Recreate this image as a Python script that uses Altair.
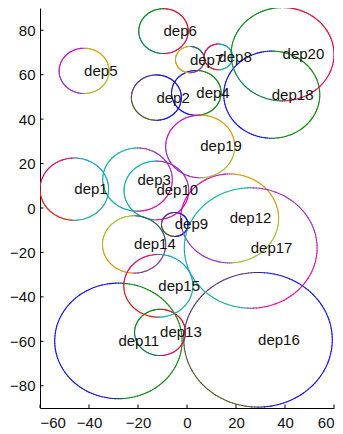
import math
import altair as alt
import pandas as pd

deps = [f"dep{i}" for i in range(1, 21)]
cx = [-46, -12.5, -20.2, 3.8, -42, -9.6, 1.2, 12.8, -5, -12.5,
      -28, 17.4, -11, -21.6, -11.7, 29, 26, 34.6, 5.4, 39]
cy = [8.5, 49.7, 12.8, 51.8, 61.7, 79.6, 66.8, 68, -7.4, 7.9,
      -59.8, -4.7, -56, -16.4, -35, -59.3, -18, 51, 27.7, 69.2]
rad = [14, 10.2, 14.2, 10.1, 10.2, 10.1, 5.9, 5.8, 5.4, 13.2,
       26, 20, 10.4, 12.9, 14.1, 30.3, 27.1, 19.6, 14.1, 21]

# quadrant colours (Q1 top-right, Q2 top-left, Q3 bottom-left, Q4 bottom-right), cycling by 7
patterns = [
    ["#1aa0d8", "#e0105a", "#e02818", "#20b2a0"],
    ["#1414f0", "#5a3a78", "#5a5a30", "#1414f0"],
    ["#a030c0", "#10b8a8", "#20a8a0", "#e010a0"],
    ["#108a10", "#1414f0", "#1414f0", "#108a10"],
    ["#d4a010", "#d010c0", "#9a30d0", "#a0c030"],
    ["#e01030", "#108a20", "#108050", "#e0105a"],
    ["#2f5f6f", "#a0c030", "#d0a020", "#8a40a0"],
]

x_ticks = [-60, -40, -20, 0, 20, 40, 60]
y_ticks = [-80, -60, -40, -20, 0, 20, 40, 60, 80]


def hex2rgb(h):
    return [int(h[i:i + 2], 16) for i in (1, 3, 5)]


def mix(a, b, t):
    ra, rb = hex2rgb(a), hex2rgb(b)
    return "#" + "".join(f"{int(round(ra[k] + (rb[k] - ra[k]) * t)):02x}" for k in range(3))


def seg_color(pat, deg):
    w = 6.0
    q = int(deg // 90) % 4
    base = pat[q]
    b_next = (q + 1) * 90
    b_prev = q * 90
    if deg > b_next - w:
        t = (deg - (b_next - w)) / (2 * w)
        return mix(base, pat[(q + 1) % 4], t)
    if deg < b_prev + w:
        t = (deg - (b_prev - w)) / (2 * w)
        return mix(pat[(q - 1) % 4], base, t)
    return base


rows = []
N = 144
for i, d in enumerate(deps):
    pat = patterns[i % 7]
    for k in range(N):
        a0 = 2 * math.pi * k / N
        a1 = 2 * math.pi * (k + 1) / N
        mid = 360.0 * (k + 0.5) / N
        rows.append({
            "dep": d,
            "x": cx[i] + rad[i] * math.cos(a0),
            "y": cy[i] + rad[i] * math.sin(a0),
            "x2": cx[i] + rad[i] * math.cos(a1),
            "y2": cy[i] + rad[i] * math.sin(a1),
            "col": seg_color(pat, mid),
        })
seg = pd.DataFrame(rows)
lab = pd.DataFrame({"dep": deps, "x": cx, "y": cy})

xs = alt.Scale(domain=[-60, 60], nice=False, zero=False)
ys = alt.Scale(domain=[-90, 90], nice=False, zero=False)

circles = alt.Chart(seg).mark_rule(strokeWidth=1.1, strokeCap="round", clip=True).encode(
    x=alt.X("x:Q", scale=xs, axis=alt.Axis(values=x_ticks, title=None)),
    y=alt.Y("y:Q", scale=ys, axis=alt.Axis(values=y_ticks, title=None)),
    x2="x2:Q",
    y2="y2:Q",
    color=alt.Color("col:N", scale=None),
)

texts = alt.Chart(lab).mark_text(
    align="left", baseline="middle", fontSize=15, font="Liberation Sans", color="#111111"
).encode(
    x=alt.X("x:Q", scale=xs),
    y=alt.Y("y:Q", scale=ys),
    text="dep:N",
)

xt = alt.Chart(pd.DataFrame({"v": x_ticks})).mark_rule(color="black", strokeWidth=1).encode(
    x=alt.X("v:Q", scale=xs), y=alt.value(400), y2=alt.value(396.5)
)
yt = alt.Chart(pd.DataFrame({"v": y_ticks})).mark_rule(color="black", strokeWidth=1).encode(
    y=alt.Y("v:Q", scale=ys), x=alt.value(0), x2=alt.value(3.5)
)

chart = alt.layer(circles, texts, xt, yt).properties(
    width=294, height=400,
    autosize=alt.AutoSizeParams(type="none"),
    padding={"left": 40, "top": 8, "right": 9, "bottom": 26},
).configure_view(stroke=None).configure_axis(
    grid=False, ticks=False, domainColor="black", domainWidth=1,
    labelFont="Liberation Sans", labelFontSize=15, labelColor="#111111",
    labelPadding=5,
).configure_axisX(labelPadding=7)

chart.save("out.html", embed_options={"renderer": "svg", "actions": False})
